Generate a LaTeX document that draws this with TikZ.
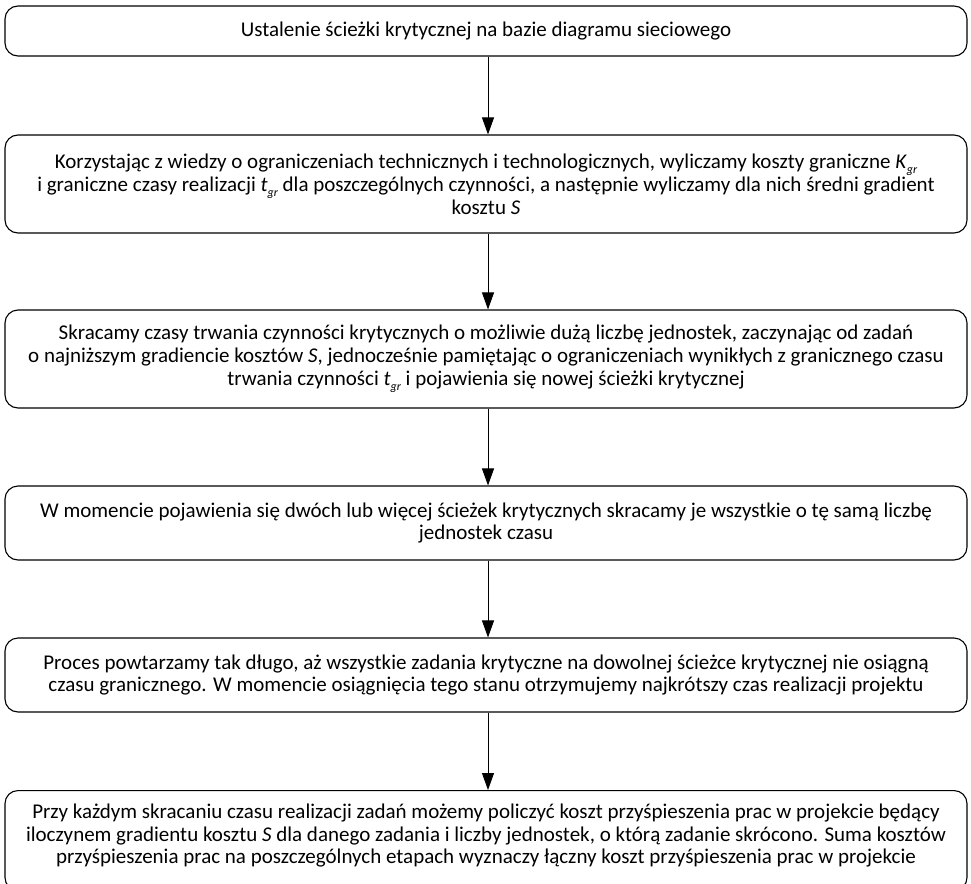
\documentclass[tikz,border=0pt]{standalone}
\usepackage{fontspec}
\setmainfont{Carlito}
\usetikzlibrary{arrows.meta}
\newcommand{\gsub}[1]{\textit{#1}\raisebox{-0.5ex}{\fontsize{12}{12}\selectfont\itshape gr}}
\tikzset{
  stepbox/.style={draw, line width=1.1pt, rounded corners=13pt, inner sep=0pt, align=center, font=\fontsize{21}{22.8}\selectfont},
  flow/.style={line width=1.0pt, -{Triangle[width=12pt,length=17pt]}}
}
\begin{document}
\begin{tikzpicture}[x=1pt,y=-1pt]
\useasboundingbox (0,0) rectangle (971,883);
\node[stepbox, minimum width=962pt, minimum height=50pt] (b1) at (486,31) {Ustalenie ścieżki krytycznej na bazie diagramu sieciowego};
\node[stepbox, minimum width=962pt, minimum height=98pt] (b2) at (486,184) {Korzystając z wiedzy o ograniczeniach technicznych i technologicznych, wyliczamy koszty graniczne \gsub{K}\\i graniczne czasy realizacji \gsub{t} dla poszczególnych czynności, a następnie wyliczamy dla nich średni gradient\\kosztu \textit{S}};
\node[stepbox, minimum width=962pt, minimum height=98pt] (b3) at (486,359) {Skracamy czasy trwania czynności krytycznych o możliwie dużą liczbę jednostek, zaczynając od zadań\\o najniższym gradiencie kosztów \textit{S}, jednocześnie pamiętając o ograniczeniach wynikłych z granicznego czasu\\trwania czynności \gsub{t} i pojawienia się nowej ścieżki krytycznej};
\node[stepbox, minimum width=962pt, minimum height=74pt] (b4) at (486,523) {W momencie pojawienia się dwóch lub więcej ścieżek krytycznych skracamy je wszystkie o tę samą liczbę\\jednostek czasu};
\node[stepbox, minimum width=962pt, minimum height=74pt] (b5) at (486,675) {Proces powtarzamy tak długo, aż wszystkie zadania krytyczne na dowolnej ścieżce krytycznej nie osiągną\\czasu granicznego. W momencie osiągnięcia tego stanu otrzymujemy najkrótszy czas realizacji projektu};
\node[stepbox, minimum width=962pt, minimum height=100pt, anchor=north] (b6) at (486,790) {\raisebox{4pt}[\height][\depth]{\begin{tabular}{@{}c@{}}Przy każdym skracaniu czasu realizacji zadań możemy policzyć koszt przyśpieszenia prac w projekcie będący\\iloczynem gradientu kosztu \textit{S} dla danego zadania i liczby jednostek, o którą zadanie skrócono. Suma kosztów\\przyśpieszenia prac na poszczególnych etapach wyznaczy łączny koszt przyśpieszenia prac w projekcie\end{tabular}}};
\draw[flow] (b1.south -| 488,0) -- (b2.north -| 488,0);
\draw[flow] (b2.south -| 488,0) -- (b3.north -| 488,0);
\draw[flow] (b3.south -| 488,0) -- (b4.north -| 488,0);
\draw[flow] (b4.south -| 488,0) -- (b5.north -| 488,0);
\draw[flow] (b5.south -| 488,0) -- (b6.north -| 488,0);
\end{tikzpicture}
\end{document}
